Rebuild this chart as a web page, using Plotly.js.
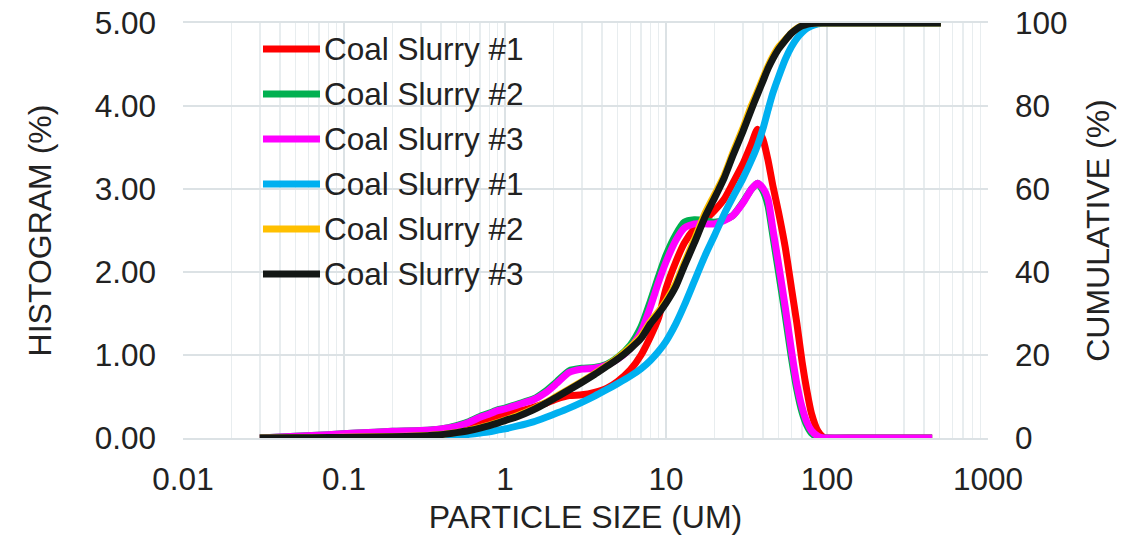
<!DOCTYPE html>
<html><head><meta charset="utf-8">
<script src="https://cdn.plot.ly/plotly-3.0.1.min.js"></script>
<style>html,body{margin:0;padding:0;background:#fff}#chart{width:1142px;height:541px}</style>
</head><body><div id="chart"></div>
<script>
// Particle sizes (um)
const sizeHist = [0.03,0.05,0.08,0.12,0.2,0.3,0.4,0.5,0.6,0.7,0.8,0.9,1.0,1.2,1.5,1.8,2.1,2.5,3.0,3.6,4.3,5.0,6.0,7.0,8.0,9.0,10,11.5,13,15,17.5,20,23,26,30,34,37,40,43,46,50,55,60,65,70,75,80,88,95,100,150,250,450];
const sizeCum  = [0.03,0.05,0.08,0.12,0.2,0.3,0.4,0.5,0.6,0.7,0.8,0.9,1.0,1.2,1.5,1.8,2.1,2.5,3.0,3.6,4.3,5.0,6.0,7.0,8.0,9.0,10,11.5,13,15,17.5,20,23,26,30,34,37,40,43,46,50,55,60,65,70,75,80,88,95,100,150,250,510];

// Histogram (%)
const hist1 = [0,0.01,0.02,0.04,0.06,0.08,0.10,0.12,0.15,0.18,0.22,0.25,0.28,0.32,0.37,0.42,0.47,0.51,0.52,0.55,0.60,0.68,0.82,1.00,1.22,1.45,1.80,2.12,2.35,2.52,2.63,2.74,2.88,3.07,3.30,3.55,3.72,3.60,3.35,3.05,2.72,2.30,1.82,1.38,0.92,0.57,0.30,0.08,0.01,0,0,0,0];
const hist2 = [0,0.02,0.04,0.06,0.08,0.09,0.11,0.15,0.20,0.26,0.30,0.34,0.36,0.41,0.47,0.57,0.68,0.81,0.84,0.85,0.89,0.97,1.12,1.34,1.65,1.95,2.20,2.45,2.60,2.63,2.62,2.60,2.63,2.68,2.84,3.00,3.07,2.98,2.80,2.45,2.00,1.48,0.98,0.58,0.31,0.15,0.06,0.01,0,0,0,0,0];
const hist3 = [0,0.02,0.04,0.06,0.08,0.09,0.11,0.14,0.19,0.25,0.29,0.33,0.35,0.40,0.46,0.55,0.66,0.79,0.83,0.84,0.88,0.95,1.08,1.28,1.58,1.88,2.12,2.38,2.53,2.58,2.58,2.58,2.62,2.68,2.83,3.00,3.07,3.01,2.88,2.53,2.10,1.58,1.07,0.65,0.37,0.19,0.09,0.02,0,0,0,0,0];

// Cumulative (%)
const cum1 = [0,0.03,0.06,0.1,0.15,0.25,0.4,0.6,0.9,1.2,1.5,1.9,2.2,2.9,3.9,5.0,6.0,7.2,8.6,10.1,11.7,13.1,14.9,16.7,18.7,20.9,23.3,27.5,32.0,37.8,44.0,48.8,54.0,58.0,62.5,67.0,70.5,74.5,79.0,83.0,87.0,91.2,94.2,96.3,97.7,98.7,99.3,99.8,100,100,100,100,100];
const cum2 = [0,0.06,0.12,0.22,0.35,0.55,0.85,1.35,1.9,2.5,3.1,3.7,4.3,5.4,7.0,8.6,10.1,11.8,13.6,15.5,17.5,19.3,21.9,24.5,28.0,30.5,33.0,37.2,42.2,47.8,54.2,58.6,63.3,68.7,74.6,80.2,83.5,86.7,89.6,91.9,94.2,96.0,97.6,98.7,99.4,99.8,100,100,100,100,100,100,100];
const cum3 = [0,0.05,0.1,0.2,0.3,0.5,0.8,1.3,1.8,2.4,3.0,3.6,4.2,5.2,6.8,8.4,9.9,11.6,13.4,15.3,17.3,19.0,21.5,24.0,27.5,30.0,32.5,36.5,41.5,47.0,53.3,57.8,62.7,68.0,73.8,79.3,82.8,86.0,89.0,91.3,93.7,95.8,97.5,98.6,99.3,99.7,99.9,100,100,100,100,100,100];

const seriesNames = ['Coal Slurry #1','Coal Slurry #2','Coal Slurry #3','Coal Slurry #1','Coal Slurry #2','Coal Slurry #3'];
const seriesColors = ['#ff0000','#00b050','#ff00ff','#00b0f0','#ffc000','#131715'];
const xTickVals = [0.01,0.1,1,10,100,1000];
const xTickLabels = ['0.01','0.1','1','10','100','1000'];

const histData = [hist1,hist2,hist3];
const cumData = [cum1,cum2,cum3];
const traces = [];
histData.forEach((h,i)=>traces.push({x:sizeHist,y:h,type:'scatter',mode:'lines',name:seriesNames[i],
  line:{color:seriesColors[i],width:7,shape:'spline',smoothing:0.6},yaxis:'y',showlegend:false,hoverinfo:'skip'}));
cumData.forEach((c,i)=>traces.push({x:sizeCum,y:c,type:'scatter',mode:'lines',name:seriesNames[i+3],
  line:{color:seriesColors[i+3],width:7,shape:'spline',smoothing:0.6},yaxis:'y2',showlegend:false,hoverinfo:'skip'}));

const minorVals = [];
for (let e=-2;e<3;e++) for (let d=2;d<=9;d++) minorVals.push(d*Math.pow(10,e));

const FONT = 'Liberation Sans, Arial, sans-serif';
const TXT = '#222222';
const GRID = '#dce2e5';

// custom legend
const L = 183, R = 988, T = 23, B = 438;
const W = R-L, H = B-T;
const shapes = [], annotations = [];
seriesNames.forEach((n,i)=>{
  const py = 49 + 45*i;
  const yp = (B-py)/H;
  shapes.push({type:'line',xref:'paper',yref:'paper',x0:(263-L)/W,x1:(320-L)/W,y0:yp,y1:yp,
    line:{color:seriesColors[i],width:7}});
  annotations.push({xref:'paper',yref:'paper',x:(322-L)/W,y:yp,xanchor:'left',yanchor:'middle',
    text:n,showarrow:false,font:{family:FONT,size:31.5,color:TXT}});
});

const TICK = 31.5, TTL = 32;
const layout = {
  width:1142,height:541,
  margin:{l:L,r:1142-R,t:T,b:541-B},
  paper_bgcolor:'#ffffff',plot_bgcolor:'#ffffff',
  showlegend:false,
  font:{family:FONT,color:TXT,size:TICK},
  xaxis:{type:'log',range:[-2,3],tickmode:'array',tickvals:xTickVals,ticktext:xTickLabels,
    showgrid:true,gridcolor:GRID,gridwidth:2,zeroline:false,ticks:'',
    showline:true,linecolor:GRID,linewidth:2,mirror:true,
    minor:{tickmode:'array',tickvals:minorVals,showgrid:true,gridcolor:'#e8edef',gridwidth:1.5,ticks:''},
    tickfont:{family:FONT,size:TICK,color:TXT},ticklabelstandoff:12,
    title:{text:'PARTICLE SIZE (UM)',font:{family:FONT,size:TTL,color:TXT},standoff:10},automargin:false},
  yaxis:{range:[0,5],dtick:1,tickformat:'.2f',showgrid:true,gridcolor:GRID,gridwidth:2,zeroline:false,ticks:'',
    tickfont:{family:FONT,size:TICK,color:TXT},ticklabelstandoff:26,
    title:{text:'HISTOGRAM (%)',font:{family:FONT,size:TTL,color:TXT},standoff:33},automargin:false},
  yaxis2:{range:[0,100],dtick:20,overlaying:'y',side:'right',showgrid:false,zeroline:false,ticks:'',
    tickfont:{family:FONT,size:TICK,color:TXT},ticklabelstandoff:26,
    title:{text:'CUMULATIVE (%)',font:{family:FONT,size:TTL,color:TXT},standoff:20},automargin:false},
  shapes:shapes,annotations:annotations
};
Plotly.newPlot('chart',traces,layout,{staticPlot:true,displayModeBar:false});
</script></body></html>
